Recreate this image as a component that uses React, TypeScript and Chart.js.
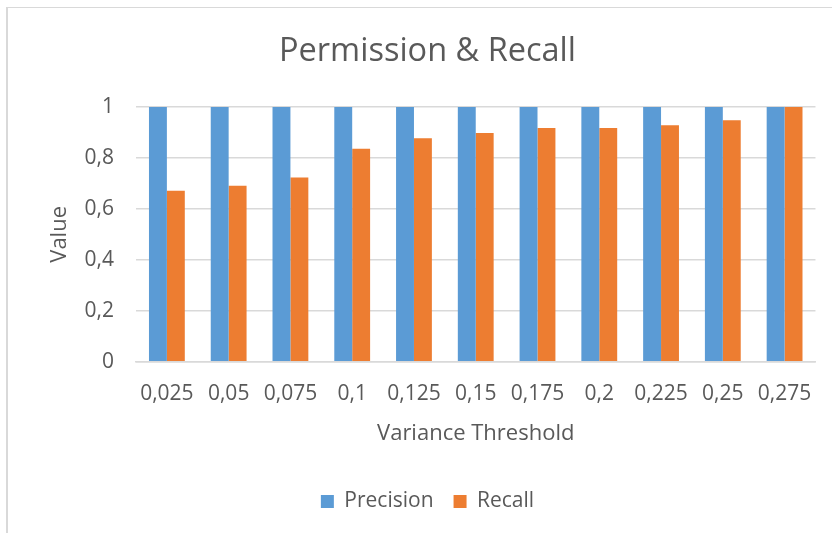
import React, { useEffect, useRef } from "react";
import { Chart, registerables } from "chart.js";

Chart.register(...registerables);

const categories = ["0,025", "0,05", "0,075", "0,1", "0,125", "0,15", "0,175", "0,2", "0,225", "0,25", "0,275"];
const precision = [1, 1, 1, 1, 1, 1, 1, 1, 1, 1, 1];
const recall = [0.671, 0.691, 0.723, 0.836, 0.877, 0.898, 0.918, 0.918, 0.928, 0.948, 1];
const yTicks = [0, 0.2, 0.4, 0.6, 0.8, 1];

const FONT = "'Open Sans', sans-serif";
const TEXT = "#595959";
const GRID = "#D9D9D9";

export default function App() {
  const ref = useRef<HTMLCanvasElement | null>(null);
  useEffect(() => {
    if (!ref.current) return;
    const chart = new Chart(ref.current, {
      type: "bar",
      data: {
        labels: categories,
        datasets: [
          { label: "Precision", data: precision, backgroundColor: "#5B9BD5", borderWidth: 0 },
          { label: "Recall", data: recall, backgroundColor: "#ED7D31", borderWidth: 0 },
        ],
      },
      options: {
        animation: false,
        responsive: true,
        maintainAspectRatio: false,
        layout: { padding: { left: 38, right: 15, top: 0, bottom: 11 } },
        datasets: { bar: { categoryPercentage: 0.58, barPercentage: 1 } },
        plugins: {
          title: {
            display: true,
            text: "Permission & Recall",
            color: TEXT,
            font: { family: FONT, size: 32.5, weight: "normal" },
            padding: { top: 32, bottom: 36 },
          },
          legend: {
            position: "bottom",
            labels: {
              color: TEXT,
              font: { family: FONT, size: 21 },
              boxWidth: 13,
              boxHeight: 13,
              padding: 20,
            },
          },
          tooltip: { enabled: false },
        },
        scales: {
          x: {
            grid: { display: false, drawTicks: false },
            border: { display: true, color: GRID, width: 1.5 },
            ticks: { color: TEXT, font: { family: FONT, size: 21 }, padding: 20, maxRotation: 0, autoSkip: false },
            title: {
              display: true,
              text: "Variance Threshold",
              color: TEXT,
              font: { family: FONT, size: 22, lineHeight: 0.64 },
              padding: { top: 0, bottom: 30 },
            },
          },
          y: {
            min: 0,
            max: 1,
            afterBuildTicks: (scale: any) => {
              scale.ticks = yTicks.map((v) => ({ value: v }));
            },
            afterFit: (scale: any) => {
              scale.width = 98;
            },
            grid: { color: GRID, lineWidth: 1.5, drawTicks: false },
            border: { display: false },
            ticks: {
              color: TEXT,
              font: { family: FONT, size: 21 },
              padding: 22,
              callback: (v: any) => String(Number(v).toFixed(1).replace(/\.0$/, "")).replace(".", ","),
            },
            title: {
              display: true,
              text: "Value",
              color: TEXT,
              font: { family: FONT, size: 22 },
              padding: { top: 9, bottom: 0 },
            },
          },
        },
      },
    });
    return () => chart.destroy();
  }, []);

  return (
    <div style={{ position: "absolute", left: 0, top: 0, width: 832, height: 533, background: "#fff", overflow: "hidden" }}>
      <div
        style={{
          position: "absolute",
          left: 6,
          top: 7,
          width: 826,
          height: 526,
          borderTop: `1px solid ${GRID}`,
          borderLeft: `2px solid ${GRID}`,
          boxSizing: "border-box",
        }}
      />
      <canvas ref={ref} style={{ position: "absolute", left: 0, top: 0, width: 832, height: 533 }} />
    </div>
  );
}
